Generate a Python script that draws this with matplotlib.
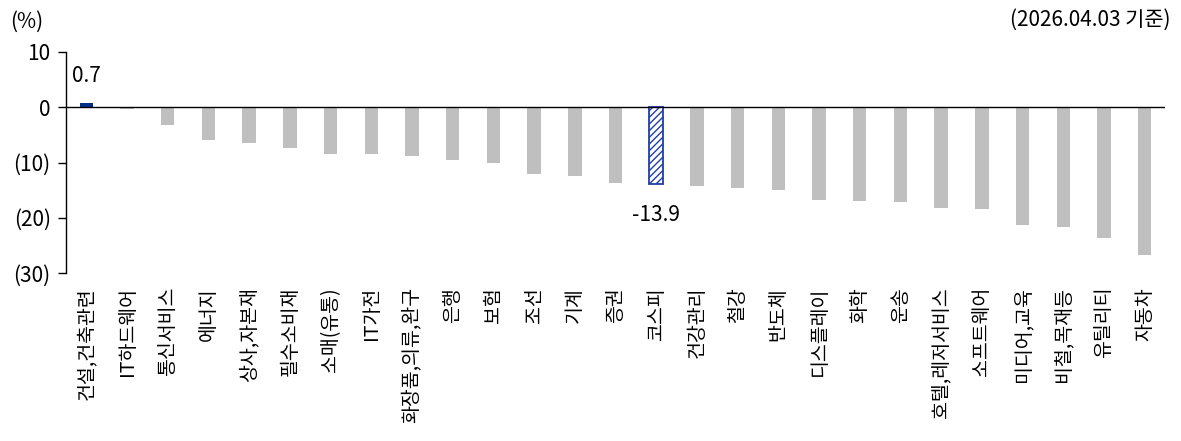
import numpy as np
import matplotlib.pyplot as plt

plt.rcParams['font.family'] = ['Noto Sans CJK KR', 'DejaVu Sans']
plt.rcParams['font.weight'] = 'light'

categories = ['건설,건축관련', 'IT하드웨어', '통신서비스', '에너지', '상사,자본재', '필수소비재',
              '소매(유통)', 'IT가전', '화장품,의류,완구', '은행', '보험', '조선', '기계', '증권',
              '코스피', '건강관리', '철강', '반도체', '디스플레이', '화학', '운송', '호텔,레저서비스',
              '소프트웨어', '미디어,교육', '비철,목재등', '유틸리티', '자동차']
values = [0.7, -0.3, -3.2, -5.9, -6.5, -7.4, -8.4, -8.5, -8.9, -9.5, -10.1, -12.0, -12.5,
          -13.8, -13.9, -14.3, -14.7, -14.9, -16.8, -16.9, -17.1, -18.3, -18.4, -21.3,
          -21.7, -23.6, -26.8]
yticks = [10, 0, -10, -20, -30]
ytick_labels = ['10', '0', '(10)', '(20)', '(30)']

gray = '#bfbfbf'
navy = '#003087'
blue = '#1f3fa8'

plt.rcParams['hatch.color'] = blue
plt.rcParams['hatch.linewidth'] = 1.0

fig = plt.figure(figsize=(11.81, 4.41), dpi=100)
ax = fig.add_axes([66 / 1181, 1 - 273 / 441, (1165 - 66) / 1181, (273 - 52) / 441])

x = np.arange(len(categories))
colors = [gray] * len(categories)
colors[0] = navy
bars = ax.bar(x, values, width=0.33, color=colors, edgecolor='none', zorder=2)

# 코스피 bar: hatched
kospi = categories.index('코스피')
bars[kospi].set_facecolor('white')
bars[kospi].set_edgecolor(blue)
bars[kospi].set_hatch('/////')
bars[kospi].set_linewidth(1.3)

ax.axhline(0, color='black', linewidth=1, zorder=3)

ax.set_xlim(-0.5, len(categories) - 0.5)
ax.set_ylim(-30, 10)
ax.set_yticks(yticks)
ax.set_yticklabels(ytick_labels, fontsize=15)
ax.tick_params(axis='y', direction='out', length=6, width=1, pad=5)

ax.set_xticks(x)
ax.set_xticklabels(categories, rotation=90, fontsize=14, va='top', ha='center')
ax.tick_params(axis='x', length=0, pad=10)

for s in ['top', 'right', 'bottom']:
    ax.spines[s].set_visible(False)
ax.spines['left'].set_linewidth(1)

ax.text(x[0], values[0] + 5.0, f'{values[0]}', ha='center', va='center', fontsize=15)
ax.text(x[kospi], values[kospi] - 5.6, f'{values[kospi]}', ha='center', va='center', fontsize=15)

fig.text(10 / 1181, 1 - 22 / 441, '(%)', ha='left', va='center', fontsize=15)
fig.text(1170 / 1181, 1 - 20 / 441, '(2026.04.03 기준)', ha='right', va='center', fontsize=15)

fig.savefig('out.png', dpi=100)
